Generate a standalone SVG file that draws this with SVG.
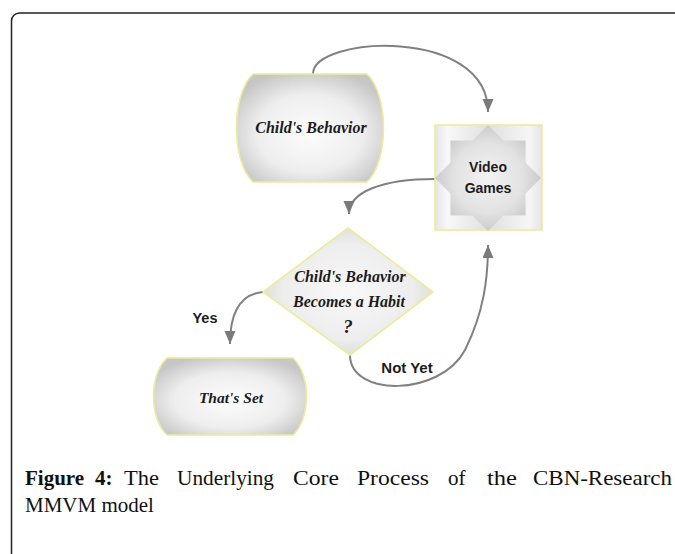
<svg xmlns="http://www.w3.org/2000/svg" width="675" height="554" viewBox="0 0 675 554">
<defs>
<radialGradient id="gNode" cx="50%" cy="55%" r="60%">
<stop offset="0" stop-color="#fcfcfc"/>
<stop offset="0.6" stop-color="#eeeeee"/>
<stop offset="1" stop-color="#c6c6c6"/>
</radialGradient>
<radialGradient id="gDia" cx="50%" cy="50%" r="55%">
<stop offset="0" stop-color="#f8f8f8"/>
<stop offset="0.7" stop-color="#ededed"/>
<stop offset="1" stop-color="#d8d8d4"/>
</radialGradient>
<radialGradient id="gStar" cx="50%" cy="50%" r="55%">
<stop offset="0" stop-color="#f2f2f2"/>
<stop offset="0.6" stop-color="#e2e2e2"/>
<stop offset="1" stop-color="#c4c4c4"/>
</radialGradient>
<linearGradient id="gSq" x1="0" y1="0" x2="1" y2="0">
<stop offset="0" stop-color="#e6e6e6"/>
<stop offset="0.12" stop-color="#f8f8f8"/>
<stop offset="0.5" stop-color="#e0e0e0"/>
<stop offset="0.88" stop-color="#f6f6f6"/>
<stop offset="1" stop-color="#e4e4e4"/>
</linearGradient>
<marker id="arr" markerUnits="userSpaceOnUse" markerWidth="14" markerHeight="12" refX="13" refY="5.5" orient="auto">
<path d="M0,0 L13,5.5 L0,11 Z" fill="#7a7a7a"/>
</marker>
</defs>
<style>
.node { stroke: #ecec9c; stroke-width: 1.6; }
.lbl { font-family: "Liberation Serif", serif; font-style: italic; font-weight: bold; fill: #1c1c1c; text-anchor: middle; }
.sans { font-family: "Liberation Sans", Arial, sans-serif; font-weight: bold; fill: #1c1c1c; text-anchor: middle; }
.conn { fill: none; stroke: #808080; stroke-width: 2; }
.cap { font-family: "Liberation Serif", serif; font-size: 21px; fill: #111; }
</style>
<rect width="675" height="554" fill="#ffffff"/>
<rect x="11.5" y="13" width="720" height="620" rx="8" fill="none" stroke="#222" stroke-width="1.5"/>

<g id="connectors">
<path class="conn" d="M313,74 C313,36 488,26 488,112" marker-end="url(#arr)"/>
<path class="conn" d="M435,179 C382,179 349,192 349,214" marker-end="url(#arr)"/>
<path class="conn" d="M263,292 C241,294 230,312 230,344" marker-end="url(#arr)"/>
<path class="conn" d="M350,355 C350,397 440,397 465,350 C484,312 488,278 488,245" marker-end="url(#arr)"/>
</g>

<g id="node-childs-behavior">
<path class="node" fill="url(#gNode)" d="M253,74 L367,74 C389,95 389,161 367,182 L253,182 C231,161 231,95 253,74 Z"/>
<text class="lbl" x="311" y="133" font-size="16">Child's Behavior</text>
</g>

<g id="node-video-games">
<rect class="node" x="435" y="125" width="107" height="105" fill="url(#gSq)"/>
<polygon fill="url(#gStar)" points="488,125 503.5,140.5 525.5,140.5 525.5,162.5 541,178 525.5,193.5 525.5,215.5 503.5,215.5 488,231 472.5,215.5 450.5,215.5 450.5,193.5 435,178 450.5,162.5 450.5,140.5 472.5,140.5"/>
<text class="sans" x="488" y="172" font-size="14">Video</text>
<text class="sans" x="488" y="193" font-size="14">Games</text>
</g>

<g id="node-decision">
<polygon class="node" fill="url(#gDia)" points="348,228 433,292 350,355 263,292" stroke="#eeeec4"/>
<text class="lbl" x="350" y="282" font-size="16">Child's Behavior</text>
<text class="lbl" x="349" y="307" font-size="16">Becomes a Habit</text>
<text class="lbl" x="348" y="333" font-size="19">?</text>
</g>

<g id="node-thats-set">
<path class="node" fill="url(#gNode)" d="M167,358 L293,358 C311,375 311,418 293,435 L167,435 C149,418 149,375 167,358 Z"/>
<text class="lbl" x="231" y="403" font-size="15.5">That's Set</text>
</g>

<g id="edge-labels">
<text class="sans" x="205" y="323" font-size="14.5">Yes</text>
<text class="sans" x="407" y="373" font-size="15">Not Yet</text>
</g>

<g id="caption">
<text class="cap" x="25" y="485" font-weight="bold" font-size="20">Figure</text>
<text class="cap" x="95" y="485" font-weight="bold" font-size="20">4:</text>
<text class="cap" x="124" y="485" textLength="35" lengthAdjust="spacingAndGlyphs">The</text>
<text class="cap" x="177" y="485" textLength="97" lengthAdjust="spacingAndGlyphs">Underlying</text>
<text class="cap" x="293" y="485" textLength="46" lengthAdjust="spacingAndGlyphs">Core</text>
<text class="cap" x="357" y="485" textLength="72" lengthAdjust="spacingAndGlyphs">Process</text>
<text class="cap" x="448" y="485">of</text>
<text class="cap" x="487" y="485" textLength="30" lengthAdjust="spacingAndGlyphs">the</text>
<text class="cap" x="533" y="485" textLength="139" lengthAdjust="spacingAndGlyphs">CBN-Research</text>
<text class="cap" x="25" y="512" font-size="19.5">MMVM model</text>
</g>
</svg>
